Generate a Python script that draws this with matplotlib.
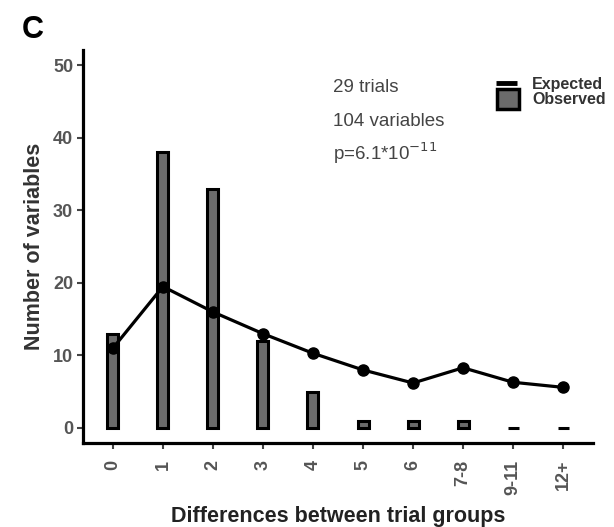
import matplotlib
matplotlib.use("Agg")
import matplotlib.pyplot as plt
from matplotlib.lines import Line2D
from matplotlib.patches import Rectangle
import numpy as np

categories = ["0", "1", "2", "3", "4", "5", "6", "7-8", "9-11", "12+"]
observed = [13, 38, 33, 12, 5, 1, 1, 1, 0, 0]
expected = [11.0, 19.5, 16.0, 13.0, 10.3, 8.0, 6.2, 8.3, 6.3, 5.6]
yticks = [0, 10, 20, 30, 40, 50]

plt.rcParams['font.family'] = ['Liberation Sans', 'DejaVu Sans']

W, H = 614, 527
fig = plt.figure(figsize=(W / 100, H / 100), dpi=100)
ax = fig.add_axes([0.135, 0.159, 0.831, 0.746])

x = np.arange(len(categories))
ax.bar(x, observed, width=0.22, color="#6b6b6b", edgecolor="black", linewidth=2.2, zorder=2)
ax.plot(x, expected, color="black", lw=2.3, marker="o", markersize=8, zorder=3)

ax.set_xlim(-0.6, 9.6)
ax.set_ylim(-2.1, 52.1)
ax.set_xticks(x)
ax.set_xticklabels(categories, rotation=90, fontsize=13, fontweight="bold", color="#555555")
ax.set_yticks(yticks)
ax.set_yticklabels([str(v) for v in yticks], fontsize=13, fontweight="bold", color="#555555")
ax.tick_params(axis="both", length=4, width=1.5, color="#444444", pad=3)
ax.tick_params(axis="x", pad=8)
for s in ["top", "right"]:
    ax.spines[s].set_visible(False)
for s in ["left", "bottom"]:
    ax.spines[s].set_linewidth(2.3)
    ax.spines[s].set_color("black")

ax.set_xlabel("Differences between trial groups", fontsize=15.5, fontweight="bold", color="#222222", labelpad=8)
ax.set_ylabel("Number of variables", fontsize=15.5, fontweight="bold", color="#333333", labelpad=6)

tc = "#444444"
def fx(px):
    return px / W
def fy(py):
    return 1 - py / H

fig.text(fx(333), fy(87), "29 trials", fontsize=13.5, color=tc, va="center")
fig.text(fx(333), fy(122), "104 variables", fontsize=13.5, color=tc, va="center")
fig.text(fx(333), fy(153), r"p=6.1*10$^{-11}$", fontsize=13.5, color=tc, va="center")

# legend drawn manually
fig.add_artist(Line2D([fx(496), fx(517)], [fy(83), fy(83)], color="black", lw=3.5,
                      solid_capstyle="butt", transform=fig.transFigure))
fig.add_artist(Rectangle((fx(497), fy(109)), fx(519) - fx(497), fy(89) - fy(109),
                         facecolor="#6b6b6b", edgecolor="black", linewidth=2.5,
                         transform=fig.transFigure))
fig.text(fx(532), fy(84), "Expected", fontsize=11.5, fontweight="bold", color="#333333", va="center")
fig.text(fx(532), fy(99), "Observed", fontsize=11.5, fontweight="bold", color="#333333", va="center")

fig.text(fx(22), fy(38), "C", fontsize=22, fontweight="bold", color="black")

fig.savefig("out.png", dpi=100)
